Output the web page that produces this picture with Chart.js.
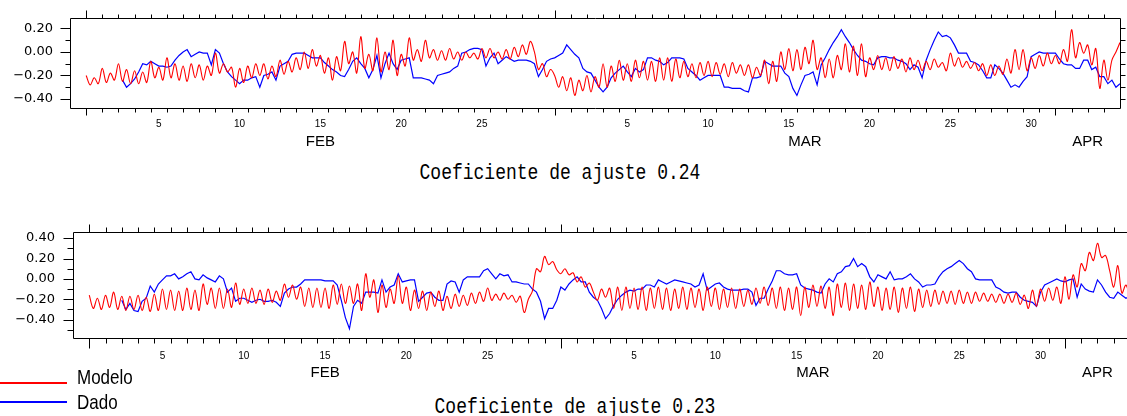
<!DOCTYPE html>
<html>
<head>
<meta charset="utf-8">
<script src="https://cdn.jsdelivr.net/npm/chart.js@4.4.0/dist/chart.umd.min.js"></script>
<style>
  html, body { margin: 0; padding: 0; background: #fff; overflow: hidden; }
  body { width: 1127px; height: 416px; position: relative; }
  .panel { position: absolute; left: 0; }
  .title { position: absolute; width: 600px; text-align: center; font-family: "Liberation Mono", "DejaVu Sans Mono", monospace;
           font-size: 18px; line-height: 18px; color: #000; white-space: nowrap; transform: scaleY(1.25); }
  .leg-line { position: absolute; left: 0; width: 67px; height: 1.5px; }
  .leg-text { position: absolute; left: 77px; font-family: "Liberation Sans", Arial, sans-serif;
              font-size: 17px; line-height: 17px; color: #000; transform: scaleY(1.15); transform-origin: 0 100%; }
</style>
</head>
<body>
<canvas id="chartTop" class="panel" style="top:0" width="1127" height="160"></canvas>
<div class="title" style="left:260px;top:164px">Coeficiente de ajuste 0.24</div>
<canvas id="chartBottom" class="panel" style="top:200px" width="1140" height="190"></canvas>
<div class="leg-line" style="top:382px;background:#ff0000"></div>
<div class="leg-text" style="top:370px">Modelo</div>
<div class="leg-line" style="top:401px;background:#0000ff"></div>
<div class="leg-text" style="top:395px">Dado</div>
<div class="title" style="left:275px;top:398px">Coeficiente de ajuste 0.23</div>

<script>
// eixo x: dias desde 31 jan 00h (1 = 1 FEB, 30 = 1 MAR, 61 = 1 APR)
const step = 0.25; // uma amostra a cada 6 h
const monthStarts = [1, 30, 61];
const dayLabelPos = [5.5, 10.5, 15.5, 20.5, 25.5, 34.5, 39.5, 44.5, 49.5, 54.5, 59.5];
const dayLabels = ['5', '10', '15', '20', '25', '5', '10', '15', '20', '25', '30'];
const monthLabelPos = [15.5, 45.5, 63];
const monthLabels = ['FEB', 'MAR', 'APR'];

const yTicksTop = [-0.4, -0.3, -0.2, -0.1, 0, 0.1, 0.2];
const yLabelsTop = [-0.4, -0.2, 0, 0.2];
const yTicksBottom = [-0.5, -0.4, -0.3, -0.2, -0.1, 0, 0.1, 0.2, 0.3, 0.4];
const yLabelsBottom = [-0.4, -0.2, 0, 0.2, 0.4];

// painel de cima
const modeloTopStart = 1;
const modeloTop = [
  -0.20,-0.28,-0.22,-0.27, -0.14,-0.26,-0.18,-0.24, -0.10,-0.25,-0.15,-0.27, -0.16,-0.27,-0.17,-0.26,
  -0.08,-0.22,-0.13,-0.24, -0.05,-0.22,-0.10,-0.24, -0.12,-0.25,-0.10,-0.22, -0.11,-0.24,-0.12,-0.20,
  -0.01,-0.18,-0.10,-0.17, -0.13,-0.30,-0.14,-0.26, -0.12,-0.22,-0.10,-0.20, -0.10,-0.23,-0.12,-0.21,
  -0.07,-0.19,-0.08,-0.17, -0.05,-0.15,0.00,-0.14, 0.02,-0.12,-0.03,-0.18, -0.05,-0.24,-0.04,-0.16,
  0.09,-0.10,0.00,-0.18, 0.13,-0.14,-0.02,-0.16, 0.12,-0.17,0.00,-0.15, 0.10,-0.20,-0.02,-0.12,
  0.12,-0.07,0.02,-0.08, 0.10,-0.05,0.02,-0.07, 0.01,-0.07,0.03,-0.06, 0.00,-0.07,0.00,-0.05,
  -0.01,-0.06,0.03,-0.05, 0.03,-0.05,0.00,-0.06, 0.02,-0.06,0.04,-0.04, 0.06,-0.02,0.09,0.00,
  -0.15,-0.10,-0.21,-0.15, -0.20,-0.30,-0.21,-0.33, -0.22,-0.37,-0.24,-0.33, -0.20,-0.34,-0.21,-0.30,
  -0.10,-0.30,-0.12,-0.25, -0.07,-0.24,-0.10,-0.25, -0.07,-0.22,-0.08,-0.24, -0.08,-0.25,-0.05,-0.24,
  -0.05,-0.25,-0.06,-0.22, -0.08,-0.21,-0.10,-0.22, -0.09,-0.20,-0.08,-0.21, -0.09,-0.19,-0.10,-0.21,
  -0.09,-0.18,-0.11,-0.20, -0.11,-0.22,-0.13,-0.20, -0.07,-0.27,-0.08,-0.25, 0.00,-0.15,0.03,-0.16,
  0.02,-0.15,0.04,-0.10, 0.10,-0.15,-0.05,-0.22, -0.06,-0.22,-0.03,-0.15, 0.07,-0.17,0.05,-0.20,
  0.07,-0.21,-0.05,-0.15, -0.03,-0.15,-0.05,-0.16, -0.04,-0.14,-0.06,-0.17, -0.05,-0.15,-0.07,-0.16,
  -0.08,-0.15,-0.06,-0.13, -0.09,-0.16,-0.01,-0.12, -0.05,-0.13,-0.08,-0.14, -0.09,-0.16,-0.10,-0.20,
  -0.11,-0.20,-0.12,-0.19, -0.06,-0.18,0.02,-0.15, 0.02,-0.16,-0.05,-0.14, -0.03,-0.12,-0.01,-0.10,
  -0.03,-0.10,0.02,-0.08, 0.19,-0.05,0.08,-0.01, 0.06,-0.11,0.03,-0.31, -0.07,-0.24,-0.07,0.00,
  0.08
];
const dadoTopStart = 3.25;
const dadoTop = [
  -0.24,-0.30,-0.27,
  -0.23,-0.17,-0.10,-0.11, -0.08,-0.10,-0.12,-0.12, -0.13,-0.12,-0.07,-0.03, 0.00,0.02,-0.04,-0.02,
  0.00,-0.01,-0.01,-0.11, 0.02,-0.01,-0.10,-0.17, -0.21,-0.24,-0.27,-0.24, -0.24,-0.22,-0.21,-0.30,
  -0.20,-0.19,-0.17,-0.24, -0.12,-0.10,-0.08,-0.02, -0.01,-0.01,-0.01,-0.03, -0.05,-0.05,-0.05,-0.09,
  -0.12,-0.15,-0.17,-0.20, -0.21,-0.15,-0.08,-0.05, -0.10,-0.14,-0.22,-0.15, -0.03,-0.22,-0.10,-0.01,
  -0.10,-0.15,-0.07,-0.06, -0.05,-0.22,-0.22,-0.22, -0.23,-0.24,-0.27,-0.20, -0.19,-0.18,-0.17,-0.14,
  -0.12,-0.01,0.00,0.02, 0.03,0.03,0.02,-0.12, -0.05,-0.01,-0.10,-0.07, -0.04,-0.06,-0.08,-0.07,
  -0.07,-0.07,-0.08,-0.10, -0.21,-0.15,-0.08,-0.06, -0.05,-0.03,-0.01,0.06, 0.02,-0.02,-0.05,-0.14,
  -0.17,-0.18,-0.24,-0.30, -0.34,-0.30,-0.22,-0.18, -0.15,-0.12,-0.17,-0.21, -0.14,-0.17,-0.15,-0.05,
  -0.05,-0.07,-0.08,-0.11, -0.09,-0.05,-0.05,-0.05, -0.06,-0.14,-0.17,-0.20, -0.24,-0.22,-0.20,-0.20,
  -0.20,-0.20,-0.30,-0.30, -0.31,-0.31,-0.31,-0.33, -0.34,-0.22,-0.22,-0.21, -0.08,-0.10,-0.12,-0.12,
  -0.12,-0.18,-0.21,-0.31, -0.37,-0.28,-0.20,-0.19, -0.17,-0.28,-0.11,-0.05, 0.02,0.08,0.13,0.19,
  0.13,0.08,0.02,-0.03, -0.07,-0.08,-0.10,-0.11, -0.05,-0.04,-0.04,-0.05, -0.05,-0.07,-0.08,-0.10,
  -0.15,-0.11,-0.13,-0.22, -0.07,0.02,0.10,0.17, 0.13,0.14,0.12,0.06, -0.01,-0.01,-0.01,-0.08,
  -0.09,-0.11,-0.16,-0.22, -0.22,-0.11,-0.14,-0.18, -0.24,-0.30,-0.28,-0.30, -0.25,-0.21,-0.04,-0.02,
  0.00,-0.01,-0.01,-0.01, -0.01,-0.06,-0.10,-0.11, -0.11,-0.14,-0.14,-0.07, -0.07,-0.15,-0.13,-0.21,
  -0.21,-0.27,-0.24,-0.30,
  -0.27
];

// painel de baixo
const modeloBottomStart = 1;
const modeloBottom = [
  -0.16,-0.29,-0.19,-0.30, -0.16,-0.28,-0.13,-0.30, -0.17,-0.31,-0.17,-0.30, -0.16,-0.31,-0.18,-0.32,
  -0.15,-0.31,-0.10,-0.30, -0.11,-0.31,-0.12,-0.31, -0.09,-0.30,-0.11,-0.31, -0.05,-0.25,-0.09,-0.29,
  -0.09,-0.29,-0.10,-0.28, -0.04,-0.25,-0.10,-0.24, -0.09,-0.24,-0.11,-0.25, -0.10,-0.23,-0.12,-0.21,
  -0.05,-0.18,-0.06,-0.20, -0.08,-0.27,-0.09,-0.28, -0.09,-0.28,-0.09,-0.29, -0.06,-0.25,-0.05,-0.24,
  -0.07,-0.24,-0.05,-0.31, 0.05,-0.18,-0.01,-0.33, -0.06,-0.28,-0.10,-0.24, 0.03,-0.24,-0.08,-0.31,
  -0.11,-0.29,-0.12,-0.31, -0.13,-0.27,-0.12,-0.31, -0.17,-0.29,-0.15,-0.27, -0.16,-0.26,-0.14,-0.24,
  -0.13,-0.22,-0.09,-0.21, -0.15,-0.21,-0.14,-0.20, -0.16,-0.23,-0.17,-0.33, -0.20,-0.12,0.10,0.07,
  0.22,0.14,0.17,0.09, 0.05,0.10,0.04,0.06, -0.03,0.02,-0.08,-0.04, -0.13,-0.21,-0.10,-0.18,
  -0.09,-0.29,-0.08,-0.31, -0.08,-0.29,-0.09,-0.30, -0.08,-0.31,-0.09,-0.29, -0.08,-0.30,-0.09,-0.31,
  -0.10,-0.29,-0.08,-0.30, -0.09,-0.28,-0.10,-0.31, -0.08,-0.27,-0.09,-0.30, -0.10,-0.28,-0.09,-0.29,
  -0.10,-0.27,-0.11,-0.25, -0.09,-0.24,-0.08,-0.26, -0.09,-0.29,-0.08,-0.31, -0.09,-0.30,-0.08,-0.36,
  -0.08,-0.28,-0.06,-0.27, -0.07,-0.29,-0.08,-0.36, -0.05,-0.28,-0.04,-0.31, -0.05,-0.29,-0.06,-0.30,
  -0.03,-0.27,-0.08,-0.31, -0.09,-0.30,-0.08,-0.33, -0.09,-0.29,-0.08,-0.32, -0.10,-0.28,-0.11,-0.27,
  -0.11,-0.25,-0.12,-0.24, -0.12,-0.25,-0.11,-0.24, -0.13,-0.24,-0.13,-0.22, -0.14,-0.22,-0.15,-0.23,
  -0.15,-0.24,-0.15,-0.23, -0.14,-0.25,-0.16,-0.29, -0.11,-0.27,-0.10,-0.22, -0.09,-0.21,-0.08,-0.24,
  0.02,-0.20,0.04,-0.08, 0.15,0.08,0.26,0.18, 0.35,0.21,0.23,0.08, -0.08,0.13,-0.14,-0.06,
  -0.19
];
const dadoBottomStart = 3;
const dadoBottom = [
  -0.21,-0.30,-0.24,-0.31, -0.32,-0.22,-0.19,-0.07, -0.13,-0.05,-0.01,0.03, 0.03,0.05,0.00,0.02,
  0.05,0.07,0.00,-0.01, 0.04,0.01,-0.01,-0.03, 0.03,0.00,-0.13,-0.09, -0.22,-0.19,-0.19,-0.21,
  -0.23,-0.21,-0.20,-0.22, -0.22,-0.21,-0.23,-0.27, -0.14,-0.10,-0.08,-0.08, -0.05,-0.01,-0.01,-0.01,
  -0.01,-0.01,-0.02,-0.02, -0.02,-0.06,-0.21,-0.38, -0.49,-0.27,-0.21,-0.24, -0.13,-0.13,-0.13,-0.14,
  -0.01,-0.13,-0.08,-0.06, 0.05,-0.03,-0.02,-0.01, -0.01,-0.22,-0.18,-0.14, -0.13,-0.18,-0.21,-0.21,
  -0.05,-0.02,-0.03,-0.13, -0.01,0.02,0.02,0.02, 0.02,0.08,0.10,0.05, 0.00,0.05,0.03,0.04,
  -0.03,-0.03,-0.04,-0.05, -0.05,-0.10,-0.13,-0.22, -0.39,-0.29,-0.29,-0.21, -0.08,-0.11,-0.05,-0.01,
  0.02,-0.03,-0.03,-0.13, -0.18,-0.21,-0.29,-0.39, -0.34,-0.26,-0.20,-0.16, -0.13,-0.11,-0.12,-0.10,
  -0.10,-0.06,-0.06,-0.08, -0.01,-0.03,-0.05,-0.03, -0.01,-0.02,-0.03,-0.04, -0.05,-0.08,-0.06,0.05,
  -0.11,-0.08,-0.05,-0.04, -0.08,-0.10,-0.11,-0.11, -0.11,-0.10,-0.10,-0.13, -0.26,-0.19,-0.19,-0.10,
  -0.02,0.08,0.08,0.05, 0.04,0.04,0.05,-0.06, -0.09,-0.10,-0.11,-0.13, -0.14,-0.05,0.00,-0.03,
  0.05,0.07,0.12,0.13, 0.20,0.12,0.15,0.12, 0.02,-0.03,0.04,0.02, 0.00,0.07,-0.01,0.00,
  0.00,0.02,0.05,0.00, -0.03,-0.08,-0.06,-0.06, -0.05,0.02,0.07,0.10, 0.12,0.15,0.18,0.15,
  0.10,0.07,0.00,-0.01, -0.01,-0.01,-0.01,-0.08, -0.10,-0.13,-0.14,-0.13, -0.13,-0.18,-0.21,-0.22,
  -0.23,-0.27,-0.13,-0.06, -0.04,-0.02,0.00,-0.02, -0.03,-0.01,0.00,-0.18, -0.05,-0.10,-0.12,-0.13,
  -0.01,-0.06,-0.13,-0.18, -0.19,-0.13,-0.16,-0.19,
  -0.17
];

const RED = '#ff0000';
const BLUE = '#0000ff';

function series(values, start) {
  return values.map((v, i) => ({ x: start + i * step, y: v }));
}

function yLabel(v) {
  return (v < 0 ? '\u2212' : '') + Math.abs(v).toFixed(2);
}

const near = (list, v) => list.some(t => Math.abs(t - v) < 1e-6);

// caixa do grafico e marcas dos eixos (dias, meses, valores)
const frameTicks = {
  id: 'frameTicks',
  afterDraw(chart, args, o) {
    const { ctx, chartArea: a } = chart;
    const xs = chart.scales.x, ys = chart.scales.y;
    const L = Math.round(a.left) + 0.5, R = Math.round(a.right) + 0.5;
    const T = Math.round(a.top) + 0.5, B = Math.round(a.bottom) + 0.5;
    ctx.save();
    ctx.strokeStyle = '#000';
    ctx.lineWidth = 1;
    ctx.beginPath();
    ctx.rect(L, T, R - L, B - T);
    for (let d = 1; d < 65; d++) {
      const X = Math.round(xs.getPixelForValue(d)) + 0.5;
      const major = monthStarts.includes(d);
      ctx.moveTo(X, B);
      ctx.lineTo(X, B + (major ? o.bottomMajor : o.bottomMinor));
      ctx.moveTo(X, T);
      ctx.lineTo(X, T - (major ? o.topMajor : o.topMinor));
    }
    o.yTicks.forEach(v => {
      const Y = Math.round(ys.getPixelForValue(v)) + 0.5;
      ctx.moveTo(L, Y);
      ctx.lineTo(L - (near(o.yLabels, v) ? o.leftMajor : o.leftMinor), Y);
      if (o.rightLen) {
        ctx.moveTo(R, Y);
        ctx.lineTo(R + o.rightLen, Y);
      }
    });
    ctx.stroke();
    ctx.restore();
  }
};

function makeChart(id, p) {
  const noPad = s => { s.paddingTop = 0; s.paddingBottom = 0; s.paddingLeft = 0; s.paddingRight = 0; };
  return new Chart(document.getElementById(id), {
    type: 'line',
    data: {
      datasets: [
        { label: 'Modelo', data: series(p.modelo, p.modeloStart), borderColor: RED, borderWidth: 1.1, tension: 0.35 },
        { label: 'Dado', data: series(p.dado, p.dadoStart), borderColor: BLUE, borderWidth: 1.2, tension: 0 }
      ]
    },
    options: {
      responsive: false,
      animation: false,
      devicePixelRatio: 1,
      elements: { point: { radius: 0 } },
      layout: { padding: { top: p.padTop, right: p.padRight, left: 0, bottom: 0 } },
      plugins: {
        legend: { display: false },
        tooltip: { enabled: false },
        frameTicks: p.ticks
      },
      scales: {
        x: {
          type: 'linear', position: 'bottom', min: 0, max: 65,
          grid: { display: false, drawTicks: false }, border: { display: false },
          afterBuildTicks: s => { s.ticks = dayLabelPos.map(v => ({ value: v })); },
          afterFit: s => { s.height = 22; noPad(s); },
          ticks: {
            autoSkip: false, maxRotation: 0, padding: p.dayPad, color: '#000',
            font: { family: 'Liberation Sans, Arial, sans-serif', size: 10 },
            callback: (v, i) => dayLabels[i]
          }
        },
        xm: {
          type: 'linear', position: 'bottom', min: 0, max: 65, weight: 1,
          grid: { display: false, drawTicks: false }, border: { display: false },
          afterBuildTicks: s => { s.ticks = monthLabelPos.map(v => ({ value: v })); },
          afterFit: s => { s.height = 30; noPad(s); },
          ticks: {
            autoSkip: false, maxRotation: 0, padding: p.monthPad, color: '#000',
            font: { family: 'Liberation Sans, Arial, sans-serif', size: 15 },
            callback: (v, i) => monthLabels[i]
          }
        },
        y: {
          type: 'linear', position: 'left', min: p.yMin, max: p.yMax,
          grid: { display: false, drawTicks: false }, border: { display: false },
          afterBuildTicks: s => { s.ticks = p.yLabels.map(v => ({ value: v })); },
          afterFit: s => { s.width = p.yWidth; noPad(s); },
          ticks: {
            padding: p.yPad, color: '#000',
            font: { family: 'DejaVu Sans, sans-serif', size: 13 },
            callback: v => yLabel(v)
          }
        }
      }
    },
    plugins: [frameTicks]
  });
}

makeChart('chartTop', {
  modelo: modeloTop, modeloStart: modeloTopStart,
  dado: dadoTop, dadoStart: dadoTopStart,
  yMin: -0.477, yMax: 0.289, yLabels: yLabelsTop, yWidth: 70, yPad: 17,
  padTop: 18, padRight: 7, dayPad: 10, monthPad: 3,
  ticks: { yTicks: yTicksTop, yLabels: yLabelsTop, leftMajor: 10, leftMinor: 5, rightLen: 5,
           bottomMajor: 7, bottomMinor: 4, topMajor: 8, topMinor: 4 }
});

makeChart('chartBottom', {
  modelo: modeloBottom, modeloStart: modeloBottomStart,
  dado: dadoBottom, dadoStart: dadoBottomStart,
  yMin: -0.58, yMax: 0.46, yLabels: yLabelsBottom, yWidth: 73, yPad: 18,
  padTop: 32, padRight: 10, dayPad: 12, monthPad: 4,
  ticks: { yTicks: yTicksBottom, yLabels: yLabelsBottom, leftMajor: 10, leftMinor: 6, rightLen: 5,
           bottomMajor: 10, bottomMinor: 5, topMajor: 8, topMinor: 5 }
});
</script>
</body>
</html>
